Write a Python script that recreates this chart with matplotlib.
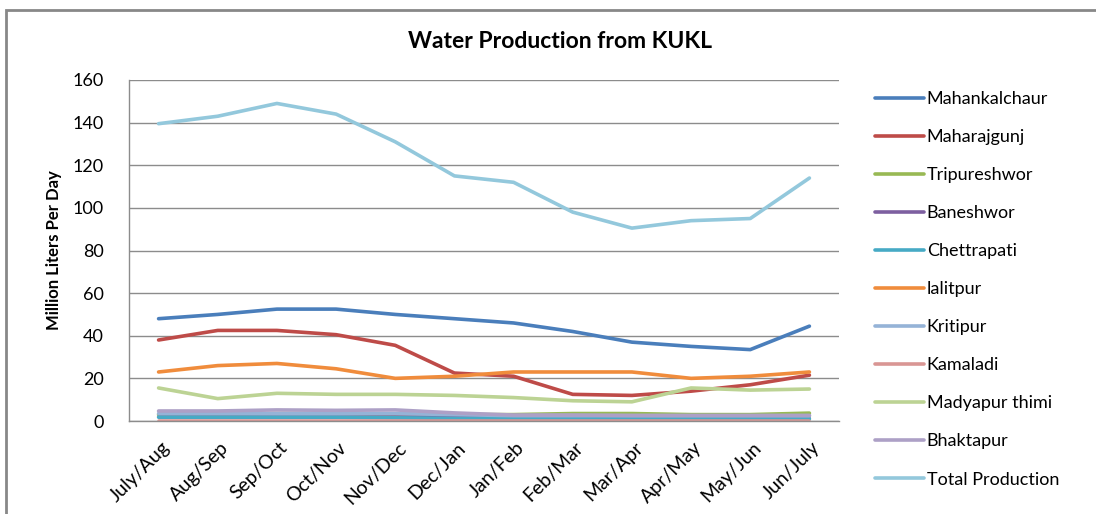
import matplotlib
matplotlib.use("Agg")
import matplotlib.pyplot as plt
from matplotlib.patches import Rectangle
import matplotlib.transforms as mtransforms

plt.rcParams['font.family'] = ['Lato', 'DejaVu Sans']

months = ["July/Aug", "Aug/Sep", "Sep/Oct", "Oct/Nov", "Nov/Dec", "Dec/Jan",
          "Jan/Feb", "Feb/Mar", "Mar/Apr", "Apr/May", "May/Jun", "Jun/July"]

mahankalchaur = [48, 50, 52.5, 52.5, 50, 48, 46, 42, 37, 35, 33.5, 44.5]
maharajgunj = [38, 42.5, 42.5, 40.5, 35.5, 22.5, 21, 12.5, 12, 14, 17, 21.5]
tripureshwor = [3, 3, 3.5, 3.5, 3, 3, 3, 3.5, 3.5, 3, 3, 3.7]
baneshwor = [2, 2, 2, 2, 2, 2, 2, 2, 2, 2, 2, 2]
chettrapati = [1.8, 1.8, 1.8, 1.8, 1.5, 1.2, 1, 1, 1, 1, 1, 1]
lalitpur = [23, 26, 27, 24.5, 20, 21, 23, 23, 23, 20, 21, 23]
kritipur = [3.5, 3.5, 3.5, 3.5, 3.5, 3, 2.5, 2.5, 2.5, 2.5, 2.5, 2.5]
kamaladi = [0.2, 0.2, 0.2, 0.2, 0.2, 0.2, 0.2, 0.2, 0.2, 0.2, 0.2, 0.2]
madyapur_thimi = [15.5, 10.5, 13, 12.5, 12.5, 12, 11, 9.5, 9, 15.5, 14.5, 15]
bhaktapur = [4.7, 4.7, 5.2, 5, 5.2, 3.8, 2.8, 2.8, 2.6, 2.6, 2.6, 2.6]
total_production = [139.5, 143, 149, 144, 131, 115, 112, 98, 90.5, 94, 95, 114]

series_names = ["Mahankalchaur", "Maharajgunj", "Tripureshwor", "Baneshwor",
                "Chettrapati", "lalitpur", "Kritipur", "Kamaladi",
                "Madyapur thimi", "Bhaktapur", "Total Production"]
series_values = [mahankalchaur, maharajgunj, tripureshwor, baneshwor,
                 chettrapati, lalitpur, kritipur, kamaladi, madyapur_thimi,
                 bhaktapur, total_production]
colors = ['#4A7EBB', '#BE4B48', '#98B954', '#7D5FA0', '#46AAC5', '#F08C3C',
          '#95B3D7', '#D99694', '#BCD394', '#ADA0C6', '#93C8DC']

W, H = 1096, 514
fig = plt.figure(figsize=(W / 100, H / 100), dpi=100)
ax = fig.add_axes([129 / W, 1 - 421 / H, (839 - 129) / W, (421 - 80) / H])

x = list(range(len(months)))
for name, vals, c in zip(series_names, series_values, colors):
    ax.plot(x, vals, color=c, lw=2.6, label=name, solid_capstyle='round')

ax.set_xlim(-0.5, len(months) - 0.5)
ax.set_ylim(0, 160)
ax.set_yticks(range(0, 161, 20))
ax.yaxis.grid(True, color='#8c8c8c', lw=1)
ax.set_axisbelow(True)
for s in ['top', 'right']:
    ax.spines[s].set_visible(False)
for s in ['left', 'bottom']:
    ax.spines[s].set_color('#8c8c8c')
    ax.spines[s].set_linewidth(1)
ax.tick_params(axis='y', length=0, labelsize=13, colors='black', pad=18)
ax.tick_params(axis='x', length=0, labelsize=14, colors='black', pad=0)
ax.set_xticks(x)
ax.set_xticklabels(months, rotation=45, ha='right', va='top', rotation_mode='anchor')
offset = mtransforms.ScaledTranslation(2 / 100, -18 / 100, fig.dpi_scale_trans)
for lbl in ax.get_xticklabels():
    lbl.set_transform(lbl.get_transform() + offset)

ax.set_ylabel("Million Liters Per Day", fontsize=12, fontweight='bold', labelpad=8)
fig.text(560 / W, 1 - 42 / H, "Water Production from KUKL", ha='center', va='center',
         fontsize=16.5, fontweight='bold')

handles, labels = ax.get_legend_handles_labels()
fig.legend(handles, labels, loc='upper left', bbox_to_anchor=(859 / W, 1 - 75 / H),
           frameon=False, fontsize=13, handlelength=2.7, handletextpad=0.15,
           labelspacing=1.22)

fig.patches.append(Rectangle((6 / W, -0.05), 1.2, 1 - 10 / H + 0.05, transform=fig.transFigure,
                             fill=False, edgecolor='#888888', lw=2))

fig.savefig("out.png", dpi=100)
